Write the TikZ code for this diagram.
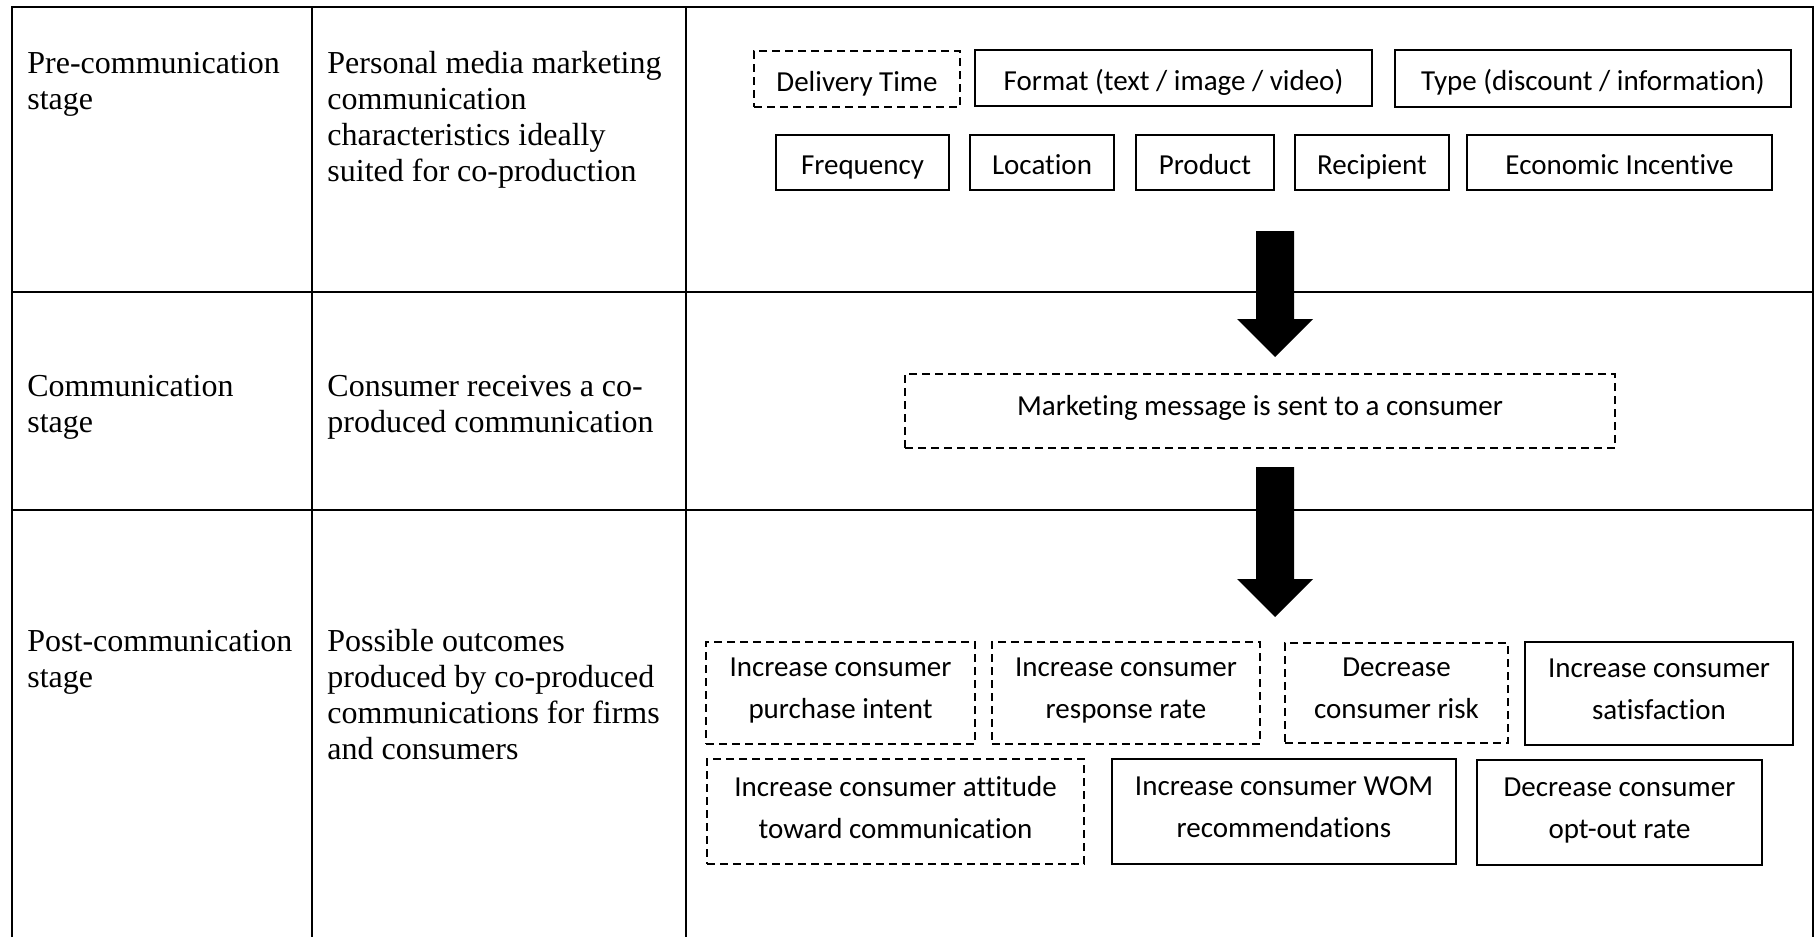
\documentclass[tikz,border=0pt]{standalone}
\usepackage{fontspec}
\setmainfont{Liberation Serif}
\newfontfamily\boxfont[Ligatures=NoCommon]{Carlito}
% fixed line height for box labels, so every label sits on the same baseline
\newcommand\boxstrut{\rule[-4.5pt]{0pt}{21pt}}
\begin{document}
\begin{tikzpicture}[x=0.5pt,y=-0.5pt,
  grid/.style={line width=1.2pt},
  celltext/.style={anchor=north west, inner sep=0pt, align=left,
    font=\fontsize{16}{18}\selectfont},
  item/.style={draw, line width=0.9pt, inner sep=0pt, align=center,
    font=\boxfont\fontsize{14.5}{21}\selectfont,
    execute at begin node=\boxstrut, execute at end node=\boxstrut},
  solidbox/.style={item},
  dashbox/.style={item, dash pattern=on 4pt off 2.5pt},
  blockarrow/.style={fill=black}
]
\useasboundingbox (0,0) rectangle (1818,937);

% table frame and rules
\draw[grid] (12,937) -- (12,7) -- (1813,7) -- (1813,937);
\draw[grid] (312,7) -- (312,937);
\draw[grid] (686,7) -- (686,937);
\draw[grid] (12,292) -- (1813,292);
\draw[grid] (12,510) -- (1813,510);

% stage names and descriptions
\node[celltext] (s1) at (27,48) {\strut Pre-communication\\stage};
\node[celltext] (d1) at (327,48) {\strut Personal media marketing\\communication\\characteristics ideally\\suited for co-production};
\node[celltext] (s2) at (27,371) {\strut Communication\\stage};
\node[celltext] (d2) at (327,371) {\strut Consumer receives a co-\\produced communication};
\node[celltext] (s3) at (27,626) {\strut Post-communication\\stage};
\node[celltext] (d3) at (327,626) {\strut Possible outcomes\\produced by co-produced\\communications for firms\\and consumers};

% communication characteristics
\node[dashbox, minimum width=103pt, minimum height=28pt] (dt) at (857,79) {Delivery Time};
\node[solidbox, minimum width=198.5pt, minimum height=28pt] (fmt) at (1173.5,78) {Format (text / image / video)};
\node[solidbox, minimum width=198pt, minimum height=28.5pt] (typ) at (1593,78.5) {Type (discount / information)};
\node[solidbox, minimum width=86.5pt, minimum height=27.5pt] (frq) at (862.5,162.5) {Frequency};
\node[solidbox, minimum width=72pt, minimum height=27.5pt] (loc) at (1042,162.5) {Location};
\node[solidbox, minimum width=69pt, minimum height=27.5pt] (prd) at (1205,162.5) {Product};
\node[solidbox, minimum width=77pt, minimum height=27.5pt] (rcp) at (1372,162.5) {Recipient};
\node[solidbox, minimum width=152.5pt, minimum height=27.5pt] (eco) at (1619.5,162.5) {Economic Incentive};

% message (label sits a little above the box centre)
\node[dashbox, minimum width=355pt, minimum height=37pt,
  execute at end node={\boxstrut\rule[-12.5pt]{0pt}{0pt}}] (msg) at (1260,411) {Marketing message is sent to a consumer};

% outcomes
\node[dashbox, minimum width=134.5pt, minimum height=51pt] (o1) at (840.5,693) {Increase consumer\\purchase intent};
\node[dashbox, minimum width=134pt, minimum height=51pt] (o2) at (1126,693) {Increase consumer\\response rate};
\node[dashbox, minimum width=111.5pt, minimum height=50pt] (o3) at (1396.5,693) {Decrease\\consumer risk};
\node[solidbox, minimum width=134pt, minimum height=51.5pt] (o4) at (1659,693.5) {Increase consumer\\satisfaction};
\node[dashbox, minimum width=188.5pt, minimum height=52.5pt] (o5) at (895.5,811.5) {Increase consumer attitude\\toward communication};
\node[solidbox, minimum width=172pt, minimum height=52.5pt] (o6) at (1284,811.5) {Increase consumer WOM\\recommendations};
\node[solidbox, minimum width=142.5pt, minimum height=52.5pt] (o7) at (1619.5,812.5) {Decrease consumer\\opt-out rate};

% block arrows between stages
\fill[blockarrow] (1256,231) -- (1294,231) -- (1294,319) -- (1313,319) -- (1275,357)
  -- (1237,319) -- (1256,319) -- cycle;
\fill[blockarrow] (1256,467) -- (1294,467) -- (1294,579) -- (1313,579) -- (1275,617)
  -- (1237,579) -- (1256,579) -- cycle;
\end{tikzpicture}
\end{document}
